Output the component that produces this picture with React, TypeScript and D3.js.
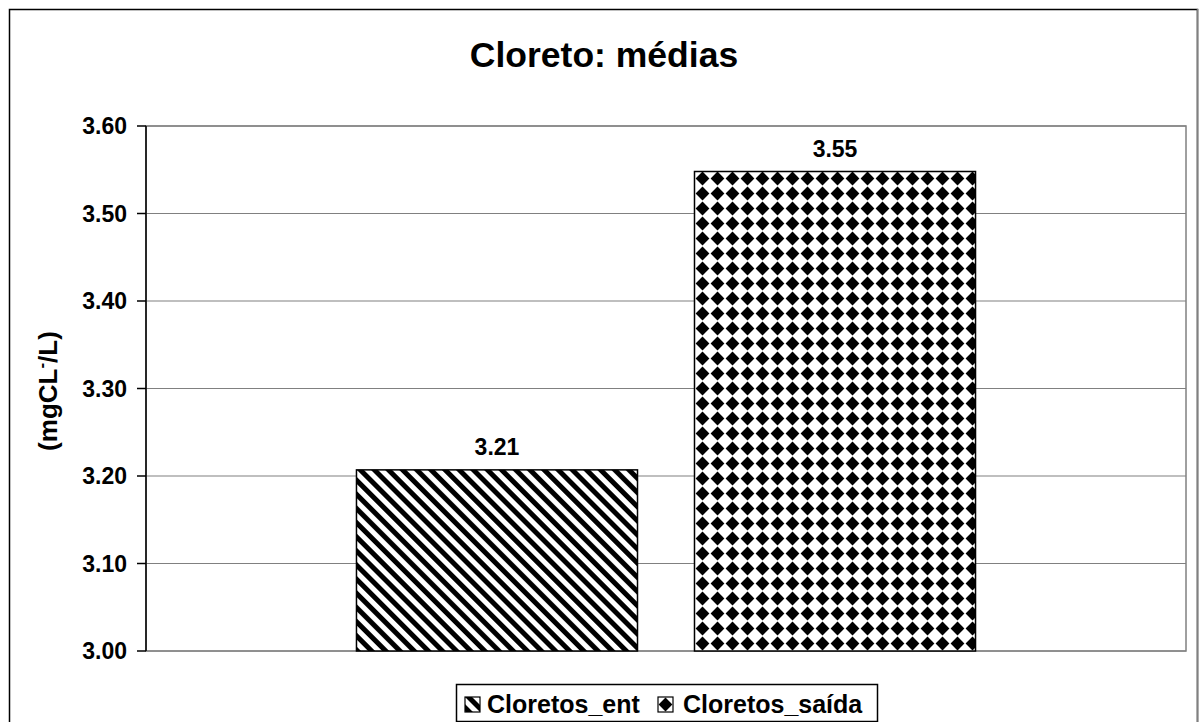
import React from "react";
import * as d3 from "d3";

const title = "Cloreto: médias";
const seriesNames = ["Cloretos_ent", "Cloretos_saída"];
const seriesValues = [3.207, 3.548];
const valueLabels = ["3.21", "3.55"];
const yTicks = [3.0, 3.1, 3.2, 3.3, 3.4, 3.5, 3.6];
const category = "Cloreto";

const W = 1199;
const H = 722;
const plot = { left: 146, right: 1186, top: 126, bottom: 651 };
const FONT = "'Liberation Sans', Arial, sans-serif";

export default function App() {
  const y = d3.scaleLinear().domain([3.0, 3.6]).range([plot.bottom, plot.top]);
  const xCat = d3
    .scaleBand<string>()
    .domain([category])
    .range([plot.left, plot.right])
    .paddingInner(0)
    .paddingOuter(0.34);
  const x = d3
    .scaleBand<string>()
    .domain(seriesNames)
    .range([xCat(category)!, xCat(category)! + xCat.bandwidth()])
    .paddingInner(0.1686)
    .paddingOuter(0);
  const patterns = ["url(#stripes)", "url(#diamonds)"];
  const legendPatterns = ["url(#stripesL)", "url(#diamondsL)"];
  const P = 10;

  return (
    <div style={{ position: "absolute", left: 0, top: 0 }}>
      <svg width={W} height={H} style={{ display: "block", background: "#fff" }} fontFamily={FONT}>
        <defs>
          <pattern id="stripes" patternUnits="userSpaceOnUse" width={P} height={P} patternTransform="rotate(-45)">
            <rect width={P} height={P} fill="#fff" />
            <rect width={P / 2} height={P} fill="#000" />
          </pattern>
          <pattern id="diamonds" patternUnits="userSpaceOnUse" width={15} height={15} x={695} y={171}>
            <rect width={15} height={15} fill="#fff" />
            <polygon points="7.5,0.6 14.4,7.5 7.5,14.4 0.6,7.5" fill="#000" />
          </pattern>
          <pattern id="stripesL" patternUnits="userSpaceOnUse" width={P} height={P} patternTransform="translate(465,697) rotate(-45)">
            <rect width={P} height={P} fill="#fff" />
            <rect width={P / 2} height={P} fill="#000" />
          </pattern>
          <pattern id="diamondsL" patternUnits="userSpaceOnUse" width={15} height={15} x={658} y={697}>
            <rect width={15} height={15} fill="#fff" />
            <polygon points="7.5,0.6 14.4,7.5 7.5,14.4 0.6,7.5" fill="#000" />
          </pattern>
        </defs>
        {/* outer border */}
        <rect x={9.5} y={9.5} width={1188} height={800} fill="#fff" stroke="#000" strokeWidth={1.5} />
        <line x1={1197.5} x2={1197.5} y1={9} y2={722} stroke="#808080" strokeWidth={1.5} />
        {/* title */}
        <text x={604} y={67} textAnchor="middle" fontSize={35.5} fontWeight="bold">
          {title}
        </text>
        {/* gridlines */}
        {yTicks.map((t) => (
          <line key={t} x1={plot.left} x2={plot.right} y1={y(t)} y2={y(t)} stroke="#808080" strokeWidth={1.2} />
        ))}
        <rect
          x={plot.left}
          y={plot.top}
          width={plot.right - plot.left}
          height={plot.bottom - plot.top}
          fill="none"
          stroke="#808080"
          strokeWidth={1.5}
        />
        {/* bars */}
        {seriesNames.map((s, i) => (
          <rect
            key={s}
            x={x(s)}
            y={y(seriesValues[i])}
            width={x.bandwidth()}
            height={y(3.0) - y(seriesValues[i])}
            fill={patterns[i]}
            stroke="#000"
            strokeWidth={1.5}
          />
        ))}
        {seriesNames.map((s, i) => (
          <text
            key={s}
            x={x(s)! + x.bandwidth() / 2}
            y={y(seriesValues[i]) - 15}
            textAnchor="middle"
            fontSize={23}
            fontWeight="bold"
          >
            {valueLabels[i]}
          </text>
        ))}
        {/* y axis */}
        <line x1={plot.left} x2={plot.left} y1={plot.top} y2={plot.bottom} stroke="#000" strokeWidth={1.5} />
        {yTicks.map((t) => (
          <g key={t}>
            <line x1={plot.left - 9} x2={plot.left} y1={y(t)} y2={y(t)} stroke="#000" strokeWidth={1.5} />
            <text x={127} y={y(t) + 8} textAnchor="end" fontSize={23} fontWeight="bold">
              {t.toFixed(2)}
            </text>
          </g>
        ))}
        <text transform={`translate(57,391) rotate(-90)`} textAnchor="middle" fontSize={26} fontWeight="bold">
          (mgCL
          <tspan dy={-10} fontSize={17}>
            -
          </tspan>
          <tspan dy={10}>/L)</tspan>
        </text>
        {/* legend */}
        <rect x={456.5} y={684.5} width={421} height={37} fill="#fff" stroke="#000" strokeWidth={1.5} />
        {seriesNames.map((s, i) => {
          const lx = [465, 658][i];
          const tx = [487, 683][i];
          return (
            <g key={s}>
              <rect x={lx} y={697} width={15} height={15} fill={legendPatterns[i]} stroke="#000" strokeWidth={1.2} />
              <text x={tx} y={713} fontSize={25} fontWeight="bold">
                {s}
              </text>
            </g>
          );
        })}
      </svg>
    </div>
  );
}
